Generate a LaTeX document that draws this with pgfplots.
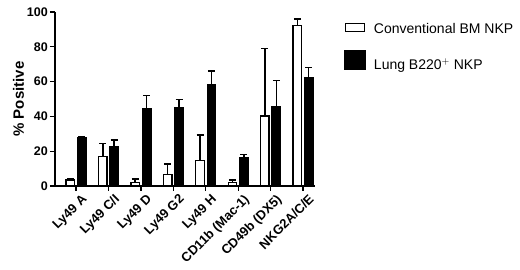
\documentclass[border=0pt]{standalone}
\usepackage{pgfplots}
\pgfplotsset{compat=1.18}
\usepackage{fontspec}
\setmainfont{Liberation Sans}
\begin{document}
\begin{tikzpicture}
\useasboundingbox (0pt,0pt) rectangle (520pt,270pt);
\begin{axis}[
  at={(55pt,84pt)}, anchor=south west,
  scale only axis, width=260pt, height=174pt,
  xmin=-0.65, xmax=7.37, ymin=0, ymax=100,
  axis x line=bottom, axis y line=left,
  axis line style={line width=1.3pt, -},
  x axis line style={-}, y axis line style={-},
  ytick={0,20,40,60,80,100},
  xtick={0,1,2,3,4,5,6,7},
  xticklabels={Ly49 A,Ly49 C/I,Ly49 D,Ly49 G2,Ly49 H,CD11b (Mac-1),CD49b (DX5),NKG2A/C/E},
  x tick label style={rotate=45, anchor=north east, font=\bfseries\fontsize{13}{15}\selectfont, inner sep=1pt, yshift=-4pt, xshift=3pt},
  y tick label style={font=\bfseries\fontsize{12.5}{14}\selectfont, inner sep=2pt},
  /pgf/number format/assume math mode=true,
  tick style={line width=1.3pt, black},
  tick align=outside, major tick length=5pt,
  ylabel={\bfseries\fontsize{15}{17}\selectfont \% Positive},
  ylabel style={at={(axis description cs:-0.14,0.5)}, anchor=center},
  ybar, bar width=8.5pt,
  legend style={at={(axis description cs:1.112,0.945)}, anchor=north west, draw=none,
    font=\fontsize{14}{16}\selectfont, row sep=13pt, inner sep=0pt},
  legend cell align=left,
  error bars/y dir=plus, error bars/y explicit,
  error bars/error bar style={line width=1.5pt, black},
  error bars/error mark options={line width=1.5pt, black, mark size=3.5pt, rotate=90},
]
\addplot[draw=black, fill=white, line width=1.3pt, bar shift=-5.7pt,
  legend image code/.code={\path[draw=none,fill=none] (0pt,0pt) -- (27pt,0pt);\draw[draw=black, fill=white, line width=1.3pt] (0.7pt,-2pt) rectangle (19.3pt,6pt);}] coordinates {
 (0,3.4) +- (0,0.8)
 (1,16.8) +- (0,7.7)
 (2,2.0) +- (0,2.0)
 (3,6.5) +- (0,6.1)
 (4,14.6) +- (0,14.7)
 (5,2.0) +- (0,1.5)
 (6,40.2) +- (0,38.8)
 (7,92.1) +- (0,4.0)
};
\addplot[draw=black, fill=black, line width=1.3pt, bar shift=5.7pt,
  legend image code/.code={\path[draw=none,fill=none] (0pt,0pt) -- (27pt,0pt);\fill[black] (0pt,-4pt) rectangle (20pt,14pt);}] coordinates {
 (0,28.0) +- (0,0.5)
 (1,22.6) +- (0,3.7)
 (2,44.3) +- (0,7.6)
 (3,45.0) +- (0,4.8)
 (4,58.0) +- (0,8.0)
 (5,16.3) +- (0,1.7)
 (6,45.6) +- (0,15.1)
 (7,62.2) +- (0,6.0)
};
\legend{Conventional BM NKP, Lung B220$^{+}$ NKP}
\end{axis}
\end{tikzpicture}
\end{document}
